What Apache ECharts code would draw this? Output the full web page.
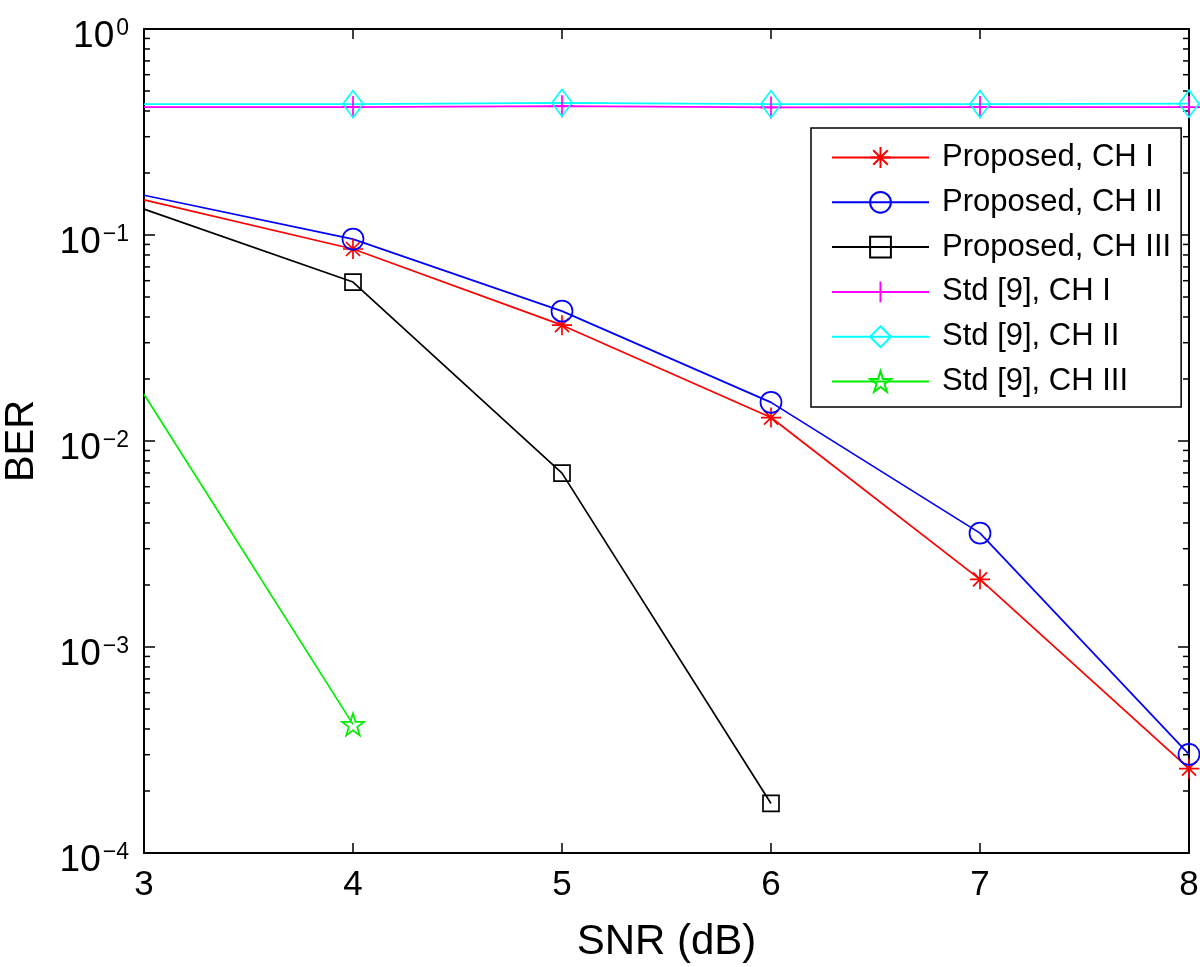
<!DOCTYPE html>
<html>
<head>
<meta charset="utf-8">
<script src="https://cdn.jsdelivr.net/npm/echarts@6/dist/echarts.min.js"></script>
<style>html,body{margin:0;padding:0;background:#fff}#c{width:1200px;height:967px}</style>
</head>
<body>
<div id="c"></div>
<script>
// ---- data ----
const snr = [3, 4, 5, 6, 7, 8];
const propCH1 = [0.148, 0.0855, 0.0365, 0.0130, 0.00213, 0.000257];
const propCH2 = [0.156, 0.0955, 0.0427, 0.0154, 0.00357, 0.000301];
const propCH3 = [0.1336, 0.0591, 0.00698, 0.000174];
const stdCH1 = [0.418, 0.418, 0.422, 0.416, 0.418, 0.418];
const stdCH2 = [0.432, 0.432, 0.438, 0.432, 0.432, 0.434];
const stdCH3 = [0.01687, 0.000421];
const seriesNames = ['Proposed, CH I', 'Proposed, CH II', 'Proposed, CH III', 'Std [9], CH I', 'Std [9], CH II', 'Std [9], CH III'];
const xTicks = [3, 4, 5, 6, 7, 8];
const yTicks = [1e-4, 1e-3, 1e-2, 1e-1, 1];
const minorTickValues = [
  2e-4, 3e-4, 4e-4, 5e-4, 6e-4, 7e-4, 8e-4, 9e-4,
  2e-3, 3e-3, 4e-3, 5e-3, 6e-3, 7e-3, 8e-3, 9e-3,
  2e-2, 3e-2, 4e-2, 5e-2, 6e-2, 7e-2, 8e-2, 9e-2,
  2e-1, 3e-1, 4e-1, 5e-1, 6e-1, 7e-1, 8e-1, 9e-1
];

// ---- symbols ----
const ASTERISK = 'path://M0,-1L0,1M-1,0L1,0M-0.7,-0.7L0.7,0.7M-0.7,0.7L0.7,-0.7';
const PLUS = 'path://M0,-1L0,1M-1,0L1,0';
const PENTAGRAM = 'path://M0,-1L0.225,-0.309L0.951,-0.309L0.363,0.118L0.588,0.809L0,0.382L-0.588,0.809L-0.363,0.118L-0.951,-0.309L-0.225,-0.309Z';

// The curves enter the plot at its left edge, where no marker is drawn.
function pairs(ys) {
  return ys.map((v, i) => i === 0 ? { value: [snr[i], v], symbol: 'none' } : [snr[i], v]);
}

function mk(name, ys, color, symbol, size) {
  return {
    name: name, type: 'line', data: pairs(ys),
    symbol: symbol, symbolSize: size, showAllSymbol: true,
    lineStyle: { color: color, width: 1.7 },
    itemStyle: { color: 'rgba(0,0,0,0)', borderColor: color, borderWidth: 1.7 },
    emphasis: { disabled: true }, animation: false, clip: false
  };
}

const FONT = 'Liberation Sans, Arial, Helvetica, sans-serif';
const chart = echarts.init(document.getElementById('c'), null, { renderer: 'canvas' });

function supLabel(v) {
  const e = Math.round(Math.log10(v));
  return '{b|10}{s|' + (e === 0 ? '0' : '\u2212' + (-e)) + '}';
}

const option = {
  animation: false,
  backgroundColor: '#fff',
  grid: { left: 144, right: 11, top: 29, bottom: 114, outerBoundsMode: 'none', containLabel: false },
  legend: {
    data: seriesNames,
    orient: 'vertical',
    left: 811, top: 128,
    itemWidth: 97, itemHeight: 26, itemGap: 13.8,
    padding: [14, 10, 10, 20],
    backgroundColor: '#fff',
    borderColor: '#000', borderWidth: 1.5, borderRadius: 0,
    textStyle: { fontFamily: FONT, fontSize: 31, color: '#000', padding: [0, 0, 0, 8], lineHeight: 26 },
    selectedMode: false
  },
  xAxis: [{
    type: 'value', min: 3, max: 8, interval: 1, position: 'bottom',
    axisLine: { show: true, onZero: false, lineStyle: { color: '#000', width: 2 } },
    axisTick: { show: true, inside: true, length: 10, lineStyle: { color: '#000', width: 1.5 } },
    axisLabel: { show: true, fontFamily: FONT, fontSize: 35, color: '#000', margin: 15 },
    splitLine: { show: false },
    name: 'SNR (dB)', nameLocation: 'middle', nameGap: 68,
    nameTextStyle: { fontFamily: FONT, fontSize: 42, color: '#000' }
  }, {
    type: 'value', min: 3, max: 8, interval: 1, position: 'top',
    axisLine: { show: true, onZero: false, lineStyle: { color: '#000', width: 2 } },
    axisTick: { show: true, inside: true, length: 10, lineStyle: { color: '#000', width: 1.5 } },
    axisLabel: { show: false }, splitLine: { show: false }
  }],
  yAxis: [{
    type: 'log', logBase: 10, min: 1e-4, max: 1, position: 'left',
    axisLine: { show: true, onZero: false, lineStyle: { color: '#000', width: 2 } },
    axisTick: { show: true, inside: true, length: 11, lineStyle: { color: '#000', width: 1.5 } },
    axisLabel: {
      show: true, margin: 15, color: '#000', fontFamily: FONT,
      formatter: supLabel,
      rich: {
        b: { fontFamily: FONT, fontSize: 37, color: '#000', lineHeight: 40, padding: [16, 0, 0, 0] },
        s: { fontFamily: FONT, fontSize: 23, color: '#000', lineHeight: 22, padding: [0, 0, 0, 2] }
      }
    },
    splitLine: { show: false },
    name: 'BER', nameLocation: 'middle', nameGap: 102, nameRotate: 90,
    nameTextStyle: { fontFamily: FONT, fontSize: 40, color: '#000' }
  }, {
    type: 'log', logBase: 10, min: 1e-4, max: 1, position: 'right',
    axisLine: { show: true, onZero: false, lineStyle: { color: '#000', width: 2 } },
    axisTick: { show: true, inside: true, length: 11, lineStyle: { color: '#000', width: 1.5 } },
    axisLabel: { show: false }, splitLine: { show: false }
  }],
  series: [
    {
      name: 'minorTicks', type: 'custom', silent: true, animation: false, clip: false,
      xAxisIndex: 0, yAxisIndex: 0,
      data: minorTickValues.map(v => [3, v]),
      renderItem: function (params, api) {
        const cs = params.coordSys;
        const y = api.coord([api.value(0), api.value(1)])[1];
        const st = { stroke: '#000', lineWidth: 1.5 };
        return {
          type: 'group', children: [
            { type: 'line', shape: { x1: cs.x, y1: y, x2: cs.x + 6, y2: y }, style: st },
            { type: 'line', shape: { x1: cs.x + cs.width, y1: y, x2: cs.x + cs.width - 6, y2: y }, style: st }
          ]
        };
      }
    },
    mk(seriesNames[0], propCH1, '#ff0000', ASTERISK, 20),
    mk(seriesNames[1], propCH2, '#0000ff', 'circle', 21),
    mk(seriesNames[2], propCH3, '#000000', 'rect', 16),
    mk(seriesNames[3], stdCH1, '#ff00ff', PLUS, 22),
    mk(seriesNames[4], stdCH2, '#00ffff', 'diamond', [20, 27]),
    mk(seriesNames[5], stdCH3, '#00ee00', PENTAGRAM, 22)
  ]
};
chart.setOption(option);
</script>
</body>
</html>
